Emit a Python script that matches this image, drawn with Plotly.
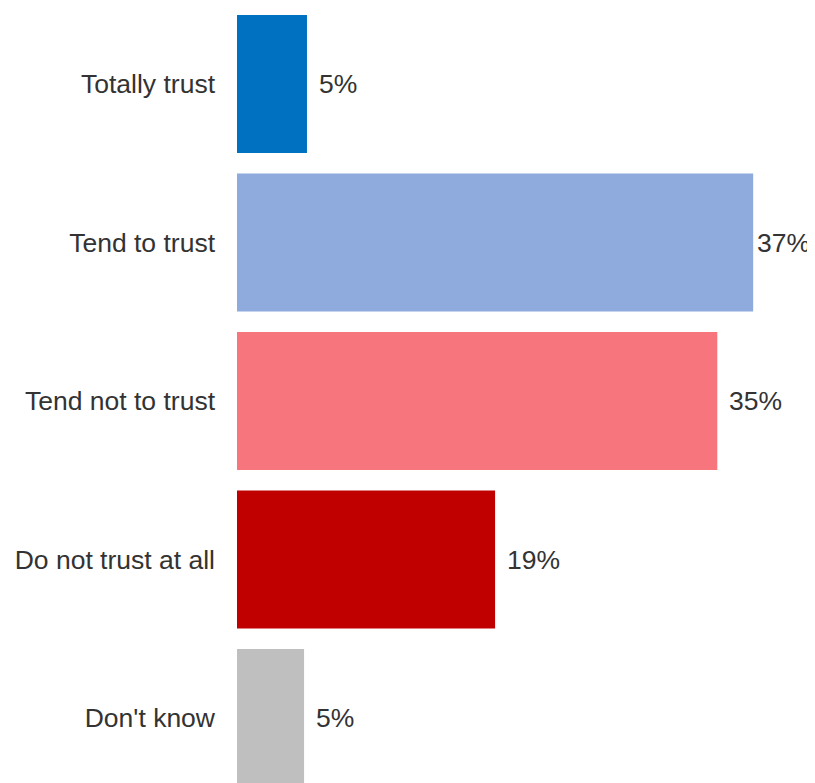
import plotly.graph_objects as go

categories = ["Totally trust", "Tend to trust", "Tend not to trust", "Do not trust at all", "Don't know"]
values = [5.07, 37.4, 34.8, 18.7, 4.86]
labels = ["5%", "37%", "35%", "19%", "5%"]
colors = ["#0070C0", "#8FAADC", "#F7757D", "#C00000", "#BFBFBF"]

FONT = "Liberation Sans, Arial, sans-serif"
TXT = "#333333"

fig = go.Figure(go.Bar(
    x=values, y=categories, orientation="h",
    marker=dict(color=colors, line=dict(width=0)),
    hoverinfo="skip",
))

vmax = max(values)
for c, v, l in zip(categories, values, labels):
    fig.add_annotation(x=v, y=c, text=l, showarrow=False, xanchor="left",
                       xshift=(2 if v == vmax else 10),
                       font=dict(family=FONT, size=26.5, color=TXT))

fig.update_layout(
    width=807, height=775,
    margin=dict(l=229, r=0, t=0, b=0, autoexpand=False),
    paper_bgcolor="white", plot_bgcolor="white",
    bargap=0.129,
    showlegend=False,
    font=dict(family=FONT, size=26.5, color=TXT),
)
fig.update_xaxes(range=[0, 41.88], visible=False, fixedrange=True)
fig.update_yaxes(categoryorder="array", categoryarray=categories,
                 range=[4.41, -0.4795], showgrid=False, zeroline=False, showline=False,
                 ticks="", ticklabelstandoff=21, automargin=False,
                 tickfont=dict(family=FONT, size=26.5, color=TXT), fixedrange=True)

fig.write_html("out.html")
